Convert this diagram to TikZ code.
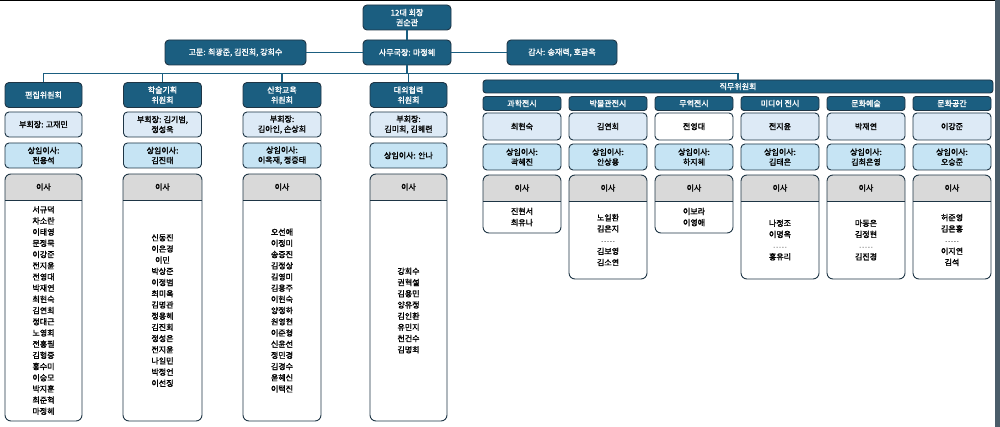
\documentclass[tikz,border=0pt]{standalone}
\usepackage{fontspec}
\setmainfont{Noto Sans CJK KR}[AutoFakeBold=1.6]
\usetikzlibrary{positioning}

\definecolor{navy}{HTML}{1B5E80}
\definecolor{edge}{HTML}{1E3545}
\definecolor{pale}{HTML}{DDEAF6}
\definecolor{sky}{HTML}{C6E4F4}
\definecolor{lgray}{HTML}{D9D9D9}

\tikzset{
  box/.style={draw=edge, line width=0.9pt, rounded corners=4pt, align=center,
    inner sep=1pt, font=\fontsize{8}{10}\selectfont\bfseries},
  hd/.style={box, fill=navy, text=white},
  vp/.style={box, fill=pale},
  sm/.style={box, fill=sky},
  link/.style={draw=navy, line width=1.6pt},
  names/.style={align=center, inner sep=0pt, font=\fontsize{8}{11.2}\selectfont\bfseries},
}

% board box: name, x left, x right, y top, y bottom, names
\newcommand\board[6]{%
  \begin{scope}
    \clip[rounded corners=6pt] (#2,#4) rectangle (#3,#5);
    \fill[white] (#2,#4) rectangle (#3,#5);
    \fill[lgray] (#2,#4) rectangle (#3,{#4+26});
  \end{scope}
  \draw[edge, line width=0.9pt] (#2,{#4+26}) -- (#3,{#4+26});
  \draw[edge, line width=0.9pt, rounded corners=6pt] (#2,#4) rectangle (#3,#5);
  \node[names] (#1h) at ({(#2+#3)/2},{#4+13}) {이사};
  \node[names] (#1) at ({(#2+#3)/2},{(#4+26+#5)/2}) {#6};
}
\newcommand\dash{{\color{gray}\fontsize{5}{8}\selectfont - - - - -}}

\begin{document}
\begin{tikzpicture}[x=1pt,y=-1pt]
\useasboundingbox (0,0) rectangle (1000,427);
\fill[white] (0,0) rectangle (1000,427);
\draw[black, line width=1.2pt] (0,0.6) -- (1000,0.6);
\fill[edge!80] (995,0) rectangle (1000,427);

% top
\node[hd, minimum width=88pt, minimum height=25pt] (pres) at (407,17.5) {12대 회장\\권순관};
\node[hd, minimum width=88pt, minimum height=25pt] (sec) at (407,52.5) {사무국장: 마정혜};
\node[hd, minimum width=141pt, minimum height=25pt] (adv) at (235.5,52.5) {고문: 최광준, 김진희, 강희수};
\node[hd, minimum width=110pt, minimum height=25pt] (aud) at (562,52.5) {감사: 송재력, 호금옥};

% committees
\node[hd, minimum width=77pt, minimum height=25pt] (c1) at (43.5,95) {편집위원회};
\node[hd, minimum width=78pt, minimum height=25pt] (c2) at (162.5,95) {학술기획\\위원회};
\node[hd, minimum width=78pt, minimum height=25pt] (c3) at (282,95) {산학교육\\위원회};
\node[hd, minimum width=77pt, minimum height=25pt] (c4) at (408.5,95) {대외협력\\위원회};
\node[hd, rounded corners=3pt, minimum width=510pt, minimum height=13pt] (job) at (738,86.5) {직무위원회};

\node[vp, minimum width=77pt, minimum height=25pt] (v1) at (43.5,124.5) {부회장: 고재민};
\node[vp, minimum width=78pt, minimum height=25pt] (v2) at (162.5,124.5) {부회장: 김기범,\\정성욱};
\node[vp, minimum width=78pt, minimum height=25pt] (v3) at (282,124.5) {부회장:\\김아인, 손상희};
\node[vp, minimum width=77pt, minimum height=25pt] (v4) at (408.5,124.5) {부회장:\\김미희, 김혜련};

\node[sm, minimum width=77pt, minimum height=25pt] (s1) at (43.5,155.5) {상임이사:\\전용석};
\node[sm, minimum width=78pt, minimum height=25pt] (s2) at (162.5,155.5) {상임이사:\\김진태};
\node[sm, minimum width=78pt, minimum height=25pt] (s3) at (282,155.5) {상임이사:\\이옥재, 정증태};
\node[sm, minimum width=77pt, minimum height=25pt] (s4) at (408.5,155.5) {상임이사: 안나};

\board{b1}{5}{82}{174}{421}{서규덕\\차소란\\이태영\\문정묵\\이강준\\전지윤\\전영대\\박재연\\최현숙\\김연희\\정대근\\노영희\\전홍필\\김형중\\홍수미\\이승모\\박지훈\\최준혁\\마정혜}
\board{b2}{123}{202}{174}{421}{신동진\\이은경\\이민\\박상준\\이정범\\최미옥\\김명관\\정용혜\\김진회\\정성은\\전지윤\\나일민\\박정언\\이선징}
\board{b3}{243}{321}{174}{421}{오선애\\이정미\\송증진\\김정상\\김영미\\김용주\\이현숙\\양정하\\원영현\\이준형\\신윤선\\정민경\\김경수\\윤혜신\\이택진}
\board{b4}{370}{447}{174}{421}{강희수\\권혁설\\김용민\\양유정\\김인환\\유민지\\천건수\\김명희}

% job committees
\node[hd, rounded corners=3pt, minimum width=78pt, minimum height=14pt] (j1) at (522,103.5) {과학전시};
\node[hd, rounded corners=3pt, minimum width=78pt, minimum height=14pt] (j2) at (608,103.5) {박물관전시};
\node[hd, rounded corners=3pt, minimum width=78pt, minimum height=14pt] (j3) at (694,103.5) {무역전시};
\node[hd, rounded corners=3pt, minimum width=78pt, minimum height=14pt] (j4) at (780,103.5) {미디어 전시};
\node[hd, rounded corners=3pt, minimum width=78pt, minimum height=14pt] (j5) at (866,103.5) {문화예술};
\node[hd, rounded corners=3pt, minimum width=78pt, minimum height=14pt] (j6) at (952,103.5) {문화공간};

\node[vp, minimum width=78pt, minimum height=27pt] (h1) at (522,126.5) {최현숙};
\node[vp, minimum width=78pt, minimum height=27pt] (h2) at (608,126.5) {김연희};
\node[box, fill=white, minimum width=78pt, minimum height=27pt] (h3) at (694,126.5) {전영대};
\node[vp, minimum width=78pt, minimum height=27pt] (h4) at (780,126.5) {전지윤};
\node[vp, minimum width=78pt, minimum height=27pt] (h5) at (866,126.5) {박재연};
\node[vp, minimum width=78pt, minimum height=27pt] (h6) at (952,126.5) {이강준};

\node[sm, minimum width=78pt, minimum height=26pt] (t1) at (522,157) {상임이사:\\곽혜진};
\node[sm, minimum width=78pt, minimum height=26pt] (t2) at (608,157) {상임이사:\\안상용};
\node[sm, minimum width=78pt, minimum height=26pt] (t3) at (694,157) {상임이사:\\하지혜};
\node[sm, minimum width=78pt, minimum height=26pt] (t4) at (780,157) {상임이사:\\김태은};
\node[sm, minimum width=78pt, minimum height=26pt] (t5) at (866,157) {상임이사:\\김최은영};
\node[sm, minimum width=78pt, minimum height=26pt] (t6) at (952,157) {상임이사:\\오승준};

\board{d1}{483}{561}{175}{233}{진현서\\최유나}
\board{d2}{569}{647}{175}{279}{노일환\\김은지\\\dash\\김보영\\김소연}
\board{d3}{655}{733}{175}{233}{이보라\\이영애}
\board{d4}{741}{819}{175}{279}{나정조\\이명옥\\\dash\\홍유리}
\board{d5}{827}{905}{175}{279}{마동은\\김정현\\\dash\\김진경}
\board{d6}{913}{991}{175}{279}{허준영\\김은홍\\\dash\\이지연\\김석}

% connectors
\coordinate (bus) at (407,73.5);
\path[link] (pres) -- (sec);
\path[link] (adv) -- (sec) -- (aud);
\path[link] (sec) -- (bus);
\path[link] (c1.north) |- (bus) -| (job.north);
\path[link] (c2.north) -- (c2.north |- bus);
\path[link] (c3.north) -- (c3.north |- bus);
\path[link] (c4.north) -- (c4.north |- bus);
\end{tikzpicture}
\end{document}
